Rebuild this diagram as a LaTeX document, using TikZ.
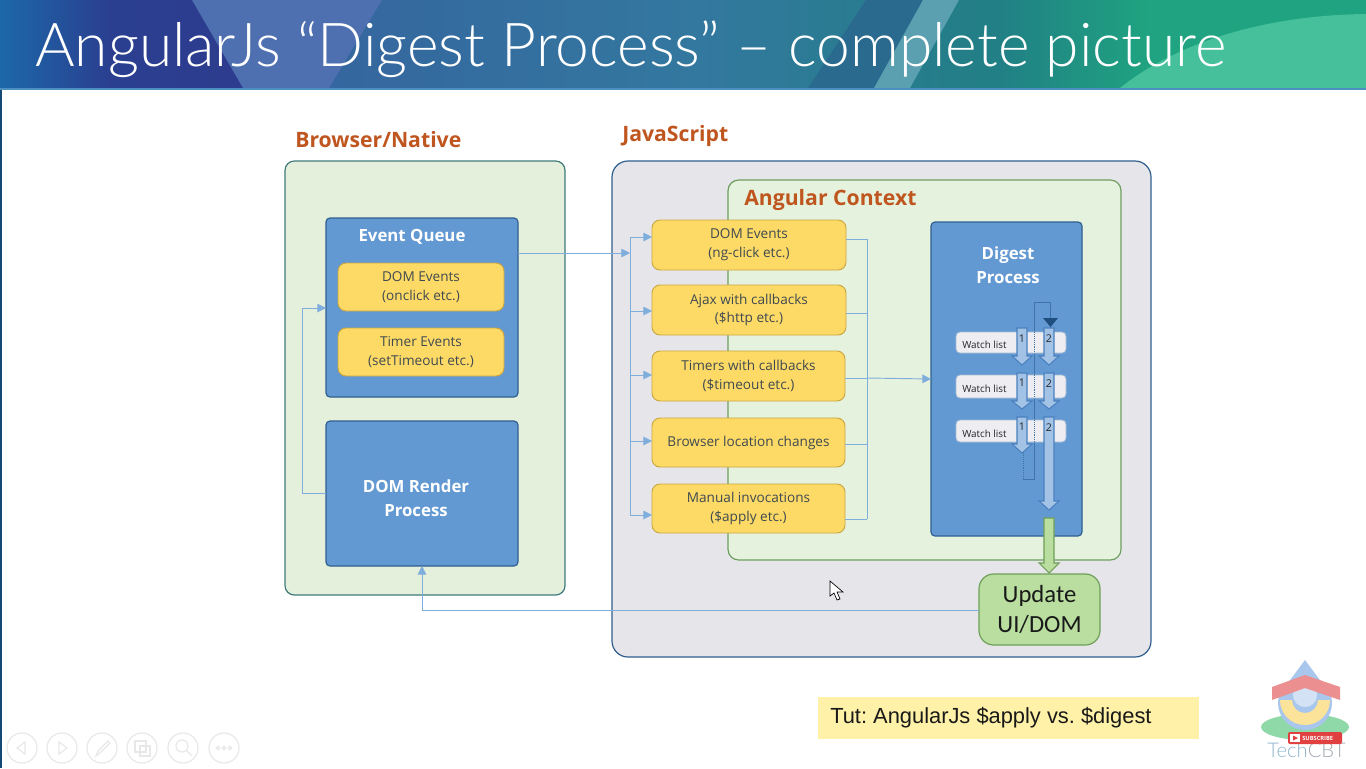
\documentclass[tikz,border=0pt]{standalone}
\usepackage{fontspec}
\setmainfont{Open Sans}
\newfontfamily\titlefont{Lato Light}
\newfontfamily\tutfont{Liberation Sans}
\newfontfamily\updfont{Carlito}
\usetikzlibrary{arrows.meta,calc}
\definecolor{panelgreen}{HTML}{E4F0DC}
\definecolor{panelgrey}{HTML}{E6E6EA}
\definecolor{ctxgreen}{HTML}{E5F2DD}
\definecolor{bluebox}{HTML}{6399D3}
\definecolor{blueedge}{HTML}{2F5F8F}
\definecolor{yel}{HTML}{FDD966}
\definecolor{yeledge}{HTML}{C9A640}
\definecolor{wire}{HTML}{7FAEDC}
\definecolor{orangehead}{HTML}{C0561F}
\definecolor{bodytext}{HTML}{3F4A50}
\definecolor{blockfill}{HTML}{A3C3E6}
\definecolor{blockedge}{HTML}{4A80BE}
\definecolor{watchfill}{HTML}{EEEEF2}
\definecolor{watchedge}{HTML}{A5BAD2}
\definecolor{greenfill}{HTML}{B9DEA0}
\definecolor{greenedge}{HTML}{6F9F58}
\definecolor{ctxedge}{HTML}{6F9F60}
\definecolor{browseredge}{HTML}{3F7A7A}
\definecolor{loopdark}{HTML}{1F4F7F}
\definecolor{loopline}{HTML}{3F74AB}
\definecolor{tutfill}{HTML}{FFF2A8}
\definecolor{navgrey}{HTML}{E8E8E8}
\definecolor{h0}{HTML}{1C68A8}\definecolor{h1}{HTML}{2A3F90}\definecolor{h2}{HTML}{2D3C8E}
\definecolor{h3}{HTML}{35669F}\definecolor{h4}{HTML}{33789F}\definecolor{h5}{HTML}{217F85}
\definecolor{h6}{HTML}{1FA380}
\definecolor{hband}{HTML}{4E6FB0}\definecolor{hdark}{HTML}{2A6A8E}\definecolor{hlight}{HTML}{5AA0B0}
\definecolor{hgreen}{HTML}{45C09A}\definecolor{hline}{HTML}{4A8FBF}
\definecolor{lgreen}{HTML}{8FD8A8}\definecolor{lblue}{HTML}{A9C6EC}\definecolor{lpink}{HTML}{EB8F90}
\definecolor{lyellow}{HTML}{FBE39A}\definecolor{lred}{HTML}{E0403F}\definecolor{ltech}{HTML}{8FB6CF}\definecolor{lcbt}{HTML}{A3ABB2}
\pgfdeclarehorizontalshading{hdr}{100bp}{
 color(0bp)=(h0); color(25bp)=(h0); color(29bp)=(h1); color(33.8bp)=(h2); color(37.1bp)=(h3);
 color(50.5bp)=(h4); color(61.5bp)=(h5); color(67bp)=(h6); color(100bp)=(h6)}
\def\u{0.75pt}
\tikzset{
 x=0.75pt,y=-0.75pt,
 panel/.style={draw,line width=0.9pt,inner sep=0pt,outer sep=0pt,anchor=north west},
 bluenode/.style={panel,fill=bluebox,draw=blueedge,rounded corners=3pt},
 bluetext/.style={inner sep=0pt,align=center,text=white,font=\bfseries\fontsize{12.6}{18}\selectfont},
 yelnode/.style={draw=yeledge,fill=yel,line width=0.7pt,rounded corners=6pt,inner sep=0pt,outer sep=0pt,anchor=north west,align=center,text=bodytext,font=\fontsize{10.2}{14}\selectfont},
 watchnode/.style={draw=watchedge,fill=watchfill,line width=0.6pt,rounded corners=3pt,inner sep=0pt,outer sep=0pt,anchor=north west},
 heading/.style={text=orangehead,font=\bfseries\fontsize{15.9}{18}\selectfont,inner sep=0pt,anchor=west},
 wirearrow/.style={draw=wire,line width=0.7pt,-{Triangle[length=6.5pt,width=6.5pt]}},
 wireline/.style={draw=wire,line width=0.7pt},
 blockblue/.style={draw=blockedge,fill=blockfill,line width=0.8pt},
 blockgreen/.style={draw=greenedge,fill=greenfill,line width=0.8pt},
 numlabel/.style={font=\fontsize{8}{9}\selectfont,text=black!85,inner sep=0pt},
 wlabel/.style={font=\fontsize{7.4}{9}\selectfont,text=black!85,inner sep=0pt,anchor=west},
 navicon/.style={draw=navgrey,line width=0.9pt},
 looppath/.style={draw=loopline,line width=0.45pt},
}
% [style] x1 y1 x2 y2 name text
\newcommand{\boxat}[7][panel]{\node[#1,minimum width=#4*\u-#2*\u,minimum height=#5*\u-#3*\u] (#6) at (#2,#3) {#7};}
% [style] centre top neck tip
\newcommand{\barrow}[5][blockblue]{\draw[#1] ({#2-5},#3) -- ({#2+5},#3) -- ({#2+5},#4) -- ({#2+10},#4) -- (#2,#5) -- ({#2-10},#4) -- ({#2-5},#4) -- cycle;}
\begin{document}
\begin{tikzpicture}
\useasboundingbox (0,0) rectangle (1366,768);
\fill[white] (0,0) rectangle (1366,768);
% header
\shade[shading=hdr] (0,0) rectangle (1366,88);
\fill[hband] (192,0) -- (382,0) -- (329,88) -- (243,88) -- cycle;
\fill[hdark] (866,0) -- (923,0) -- (874,88) -- (808,88) -- cycle;
\fill[hlight] (923,0) -- (959,0) -- (910,88) -- (874,88) -- cycle;
\fill[hgreen] (1120,88) .. controls (1180,40) and (1270,15) .. (1366,14) -- (1366,88) -- cycle;
\fill[hline] (0,88) rectangle (1366,90);
\fill[h0!70!black] (0,90) rectangle (1.5,768);
\node[inner sep=0pt,anchor=base west,text=white,font=\titlefont\fontsize{45.4}{50}\selectfont] (title) at (35,66) {AngularJs “Digest Process” – complete picture};
% panels
\boxat[panel,fill=panelgreen,draw=browseredge,rounded corners=7pt]{285}{161}{565}{595}{browser}{}
\boxat[panel,fill=panelgrey,draw=blueedge,rounded corners=12pt]{612}{161}{1151}{657}{js}{}
\boxat[panel,fill=ctxgreen,draw=ctxedge,rounded corners=8pt]{728}{180}{1121}{560}{ctx}{}
\node[heading] (hbrowser) at (295,140) {Browser/Native};
\node[heading] (hjs) at (622,136) {JavaScript};
\node[heading] (hctx) at (744,200) {Angular Context};
% blue boxes
\boxat[bluenode]{326}{218}{518}{397}{queue}{}
\node[bluetext] (queuelabel) at (412,237) {Event Queue};
\boxat[bluenode]{326}{421}{518}{566}{render}{}
\node[bluetext] (renderlabel) at (416,498) {DOM Render\\Process};
\boxat[bluenode]{931}{222}{1082}{536}{digest}{}
\node[bluetext] (digestlabel) at (1008,265) {Digest\\Process};
% yellow boxes
\boxat[yelnode]{338}{263}{504}{311}{y1}{DOM Events\\(onclick etc.)}
\boxat[yelnode]{338}{328}{504}{376}{y2}{Timer Events\\(setTimeout etc.)}
\boxat[yelnode]{652}{220}{846}{270}{a1}{DOM Events\\(ng-click etc.)}
\boxat[yelnode]{652}{285}{846}{335}{a2}{Ajax with callbacks\\(\$http etc.)}
\boxat[yelnode]{652}{351}{845}{401}{a3}{Timers with callbacks\\(\$timeout etc.)}
\boxat[yelnode]{652}{418}{845}{467}{a4}{Browser location changes}
\boxat[yelnode]{652}{484}{845}{533}{a5}{Manual invocations\\(\$apply etc.)}
% left bus
\coordinate (busin) at (630,253);
\coordinate (b1) at (630,237);
\coordinate (b2) at (630,311);
\coordinate (b3) at (630,375);
\coordinate (b4) at (630,441);
\coordinate (b5) at (630,515);
\draw[wirearrow] (queue.east |- busin) -- (busin);
\draw[wireline] (b1) -- (b5);
\foreach \i in {1,...,5} \draw[wirearrow] (b\i) -- (b\i -| a\i.west);
% right bus
\coordinate (c1) at (867,239);
\coordinate (c2) at (867,313);
\coordinate (c3) at (867,378);
\coordinate (c4) at (867,444);
\coordinate (c5) at (867,519);
\draw[wireline] (c1) -- (c5);
\foreach \i in {1,...,5} \draw[wireline] (c\i -| a\i.east) -- (c\i);
\coordinate (dg) at (931,379);
\draw[wirearrow] (c3) -- (dg);
% render to queue
\coordinate (rq1) at (302,493);
\coordinate (rq2) at (302,308);
\draw[wirearrow] (rq1 -| render.west) -- (rq1) -- (rq2) -- (rq2 -| queue.west);
% loop line
\coordinate (la) at (1023,453);
\coordinate (lb) at (1023,479);
\coordinate (lc) at (1034.5,479);
\coordinate (ld) at (1034.5,302);
\coordinate (le) at (1050.5,302);
\coordinate (lf) at (1050.5,328);
\draw[looppath,densely dotted] (la) -- (lb);
\draw[looppath] (lb) -- (lc) -- (ld) -- (le) -- (lf);
% watch lists
\boxat[watchnode]{956}{332}{1066}{353}{w1}{}
\boxat[watchnode]{956}{375}{1066}{398}{w2}{}
\boxat[watchnode]{956}{420}{1066}{442}{w3}{}
\node[wlabel] (wl1) at (962,345) {Watch list};
\node[wlabel] (wl2) at (962,389) {Watch list};
\node[wlabel] (wl3) at (962,434) {Watch list};
\draw[looppath,densely dotted] (1034.5,332) -- (1034.5,353) (1034.5,375) -- (1034.5,398) (1034.5,420) -- (1034.5,442);
\fill[loopdark] (1043,318) -- (1058,318) -- (1050.5,327) -- cycle;
% block arrows
\barrow{1022}{328}{356}{365}
\barrow{1049}{328}{356}{365}
\barrow{1022}{373}{401}{409}
\barrow{1049}{373}{401}{409}
\barrow{1022}{417}{444}{453}
\barrow{1049}{417}{501}{510}
\barrow[blockgreen]{1049}{518}{563}{573}
\node[numlabel] (n11) at (1022,339) {1};
\node[numlabel] (n12) at (1049,339) {2};
\node[numlabel] (n21) at (1022,383) {1};
\node[numlabel] (n22) at (1049,384) {2};
\node[numlabel] (n31) at (1022,427) {1};
\node[numlabel] (n32) at (1049,428) {2};
% update
\boxat[panel,fill=greenfill,draw=greenedge,rounded corners=11pt,align=center,font=\updfont\fontsize{18.5}{23}\selectfont,text=black!90]{979}{574}{1100}{645}{update}{Update\\UI/DOM}
\coordinate (ur) at (422,610);
\draw[wirearrow] (ur -| update.west) -- (ur) -- (ur |- render.south);
% tut
\boxat[panel,draw=none,fill=tutfill]{818}{697}{1199}{739}{tut}{}
\node[inner sep=0pt,anchor=base west,font=\tutfont\fontsize{16.4}{18}\selectfont\frenchspacing,text=black!90] (tutlabel) at (830,723) {Tut: AngularJs \$apply vs. \$digest};
% cursor
\draw[black,fill=white,line width=0.5pt] (830,581) -- (830,596) -- (834,593) -- (837,600) -- (840,599) -- (837,592) -- (843,592) -- cycle;
% logo
\fill[lgreen] (1305,727) ellipse [x radius=44,y radius=13];
\fill[lblue] (1305,660) -- (1331,695) -- (1279,695) -- cycle;
\fill[lblue] (1305,703) circle [radius=27];
\fill[white!50!lblue] (1305,695) circle [radius=12];
\fill[lyellow] (1280,700) arc [start angle=180,end angle=0,radius=25] -- (1318,700) arc [start angle=0,end angle=180,radius=13] -- cycle;
\fill[lpink] (1272,687) -- (1305,675) -- (1340,687) -- (1340,700) -- (1305,688) -- (1272,700) -- cycle;
\node[inner sep=0pt,anchor=base west,font=\titlefont\fontsize{15.2}{18}\selectfont] (techcbt) at (1267,757) {\textcolor{ltech}{Tech}\textcolor{lcbt}{CBT}};
\node[fill=lred,rounded corners=1.5pt,inner sep=0pt,outer sep=0pt,minimum width=54*\u,minimum height=12*\u,anchor=north west] (subscribe) at (1288,732) {};
\node[inner sep=0pt,anchor=west,text=white,font=\bfseries\fontsize{4.3}{5}\selectfont] (subscribelabel) at (1302,738) {SUBSCRIBE};
\fill[white] (1290,734) rectangle (1300,742);
\fill[lred] (1293,735.5) -- (1298,738) -- (1293,740.5) -- cycle;
% slide-show controls
\foreach \cx in {22,62,102,142,183,224} \draw[navicon] (\cx,748) circle [radius=15];
\draw[navicon] (25,742) -- (17,748) -- (25,754) -- cycle;
\draw[navicon] (59,742) -- (67,748) -- (59,754) -- cycle;
\draw[navicon] (96,756) -- (98,751) -- (108,741) -- (110,743) -- (100,753) -- cycle;
\draw[navicon] (135,741) rectangle (146,752);
\draw[navicon] (140,746) rectangle (150,756);
\draw[navicon] (182,746) circle [radius=6];
\draw[navicon] (186,750) -- (192,756);
\foreach \dx in {218,224,230} \draw[navicon] (\dx,748) circle [radius=1.8];
\end{tikzpicture}
\end{document}
